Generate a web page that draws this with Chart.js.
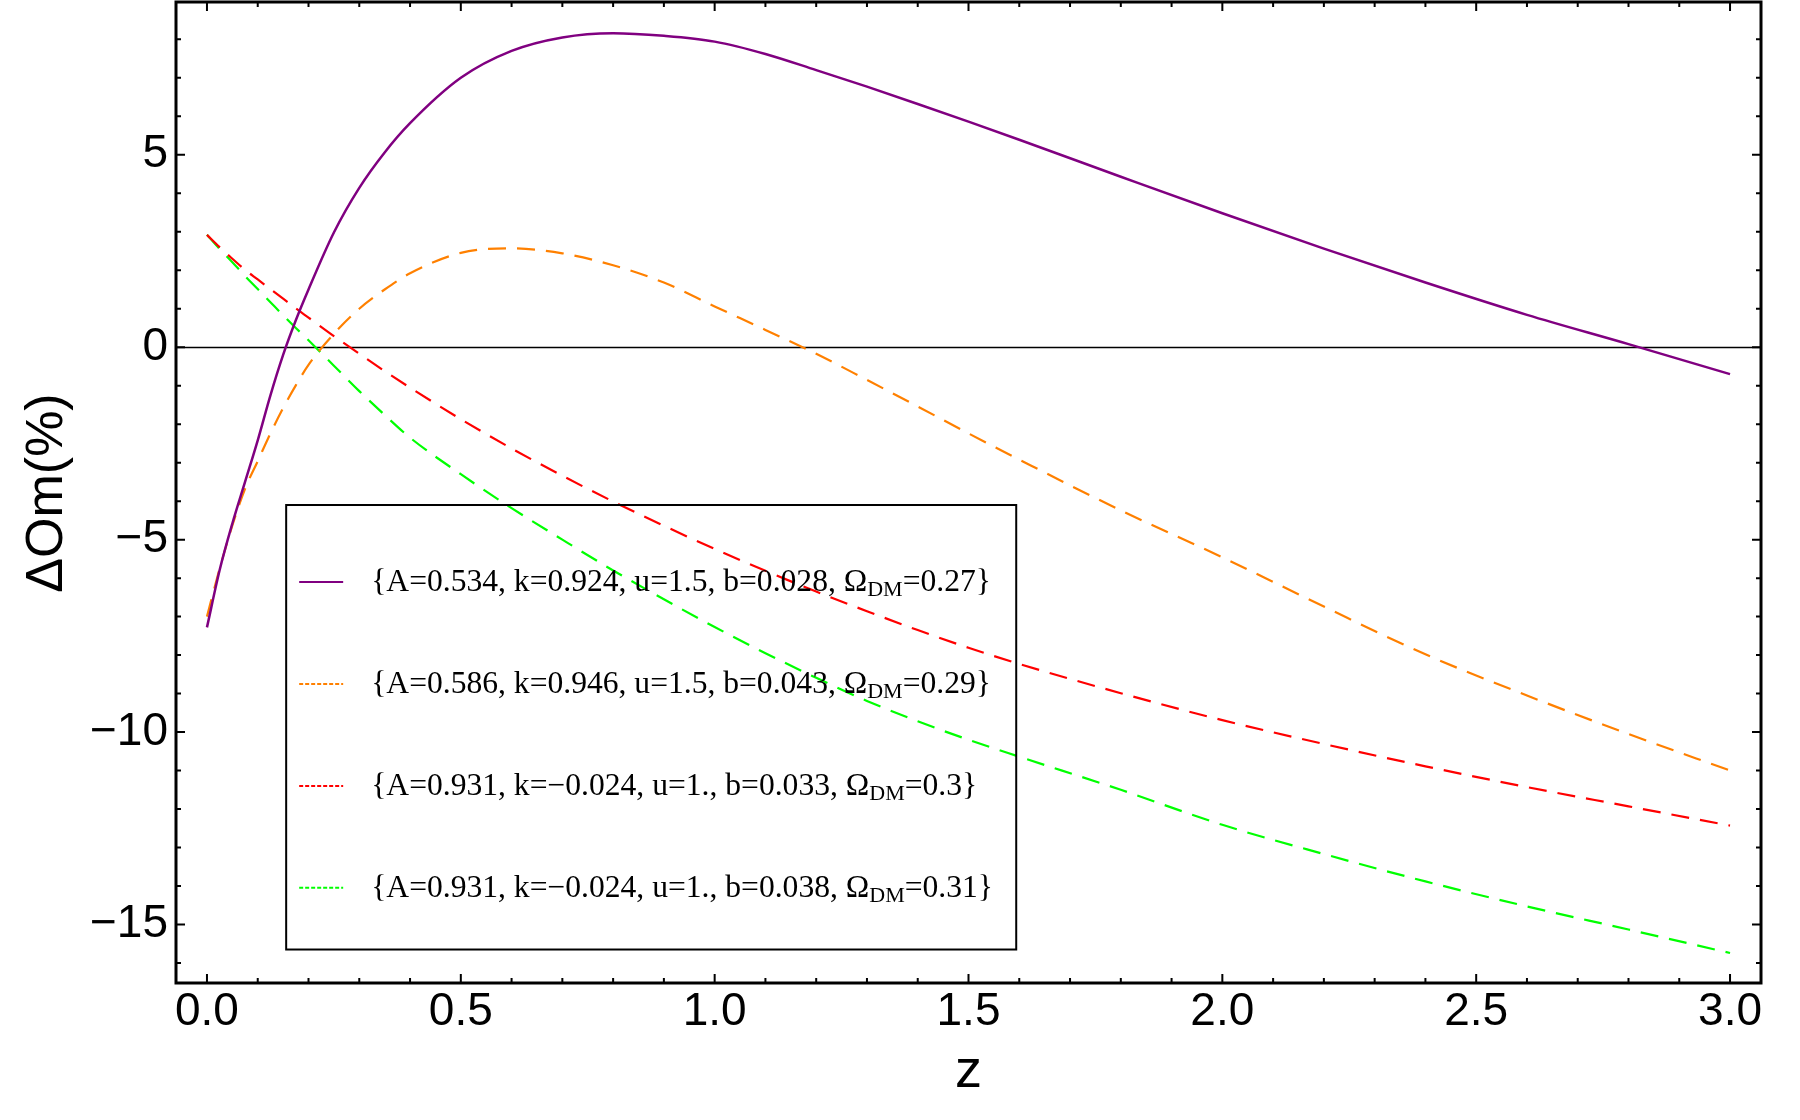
<!DOCTYPE html>
<html>
<head>
<meta charset="utf-8">
<script src="https://cdn.jsdelivr.net/npm/chart.js@4.4.1/dist/chart.umd.min.js"></script>
<style>
  html, body { margin: 0; padding: 0; background: #fff; }
  #wrap { width: 1800px; height: 1120px; }
</style>
</head>
<body>
<div id="wrap"><canvas id="chart" width="1800" height="1120"></canvas></div>
<script>
// redshift samples
const zValues = [0, 0.025, 0.05, 0.075, 0.1, 0.125, 0.15, 0.175, 0.2, 0.25, 0.3, 0.35, 0.4, 0.5, 0.6, 0.7, 0.8, 0.9,
                 1.0, 1.1, 1.2, 1.3, 1.4, 1.5, 1.6, 1.8, 2.0, 2.2, 2.4, 2.6, 2.8, 3.0];

// ΔOm(%)
const purpleVals = [-7.28, -5.79, -4.58, -3.5, -2.42, -1.25, -0.2, 0.7, 1.5, 2.98, 4.14, 5.06, 5.82, 7.0, 7.7, 8.05, 8.16, 8.09,
                    7.94, 7.62, 7.2, 6.77, 6.32, 5.86, 5.39, 4.43, 3.48, 2.56, 1.68, 0.84, 0.08, -0.70];
const orangeVals = [-7.0, -5.75, -4.63, -3.68, -2.96, -2.24, -1.58, -0.99, -0.46, 0.35, 1.0, 1.5, 1.92, 2.45, 2.57, 2.44, 2.13, 1.68,
                    1.06, 0.45, -0.17, -0.85, -1.54, -2.24, -2.92, -4.24, -5.46, -6.74, -7.98, -9.05, -10.05, -11.0];
const redVals    = [2.92, 2.6, 2.3, 2.01, 1.76, 1.51, 1.26, 1.01, 0.77, 0.29, -0.17, -0.62, -1.05, -1.87, -2.63, -3.34, -4.01, -4.64,
                    -5.24, -5.81, -6.35, -6.86, -7.35, -7.81, -8.23, -8.99, -9.69, -10.31, -10.89, -11.43, -11.93, -12.43];
const greenVals  = [2.92, 2.55, 2.21, 1.85, 1.51, 1.17, 0.83, 0.5, 0.18, -0.48, -1.14, -1.76, -2.35, -3.3, -4.18, -5.0, -5.8, -6.55,
                    -7.27, -7.95, -8.59, -9.19, -9.72, -10.2, -10.64, -11.5, -12.41, -13.17, -13.88, -14.53, -15.13, -15.74];

// legend parameters
const paramA  = ['0.534', '0.586', '0.931', '0.931'];
const paramK  = ['0.924', '0.946', '\u22120.024', '\u22120.024'];
const paramU  = ['1.5', '1.5', '1.', '1.'];
const paramB  = ['0.028', '0.043', '0.033', '0.038'];
const paramOm = ['0.27', '0.29', '0.3', '0.31'];

const seriesColors = ['#800080', '#ff8000', '#ff0000', '#00ff00'];
const seriesVals = [purpleVals, orangeVals, redVals, greenVals];

const xMajor = [0, 0.5, 1.0, 1.5, 2.0, 2.5, 3.0];
const yMajor = [-15, -10, -5, 0, 5];

const SANS = '"Liberation Sans", Arial, Helvetica, sans-serif';
const SERIF = '"Liberation Serif", "Times New Roman", serif';

const datasets = seriesVals.map((vals, i) => ({
  label: 'set' + i,
  data: zValues.map((z, j) => ({ x: z, y: vals[j] })),
  borderColor: seriesColors[i],
  borderWidth: i === 0 ? 2.5 : 2.2,
  borderDash: i === 0 ? [] : [18, 11],
  pointRadius: 0,
  fill: false,
  cubicInterpolationMode: 'monotone'
}));

// frame, inward ticks, zero axis, axis titles and the boxed legend
const framePlugin = {
  id: 'frame',
  beforeDatasetsDraw(chart) {
    const { ctx, chartArea: a, scales: { y } } = chart;
    const y0 = Math.round(y.getPixelForValue(0)) + 0.5;
    ctx.save();
    ctx.strokeStyle = '#000';
    ctx.lineWidth = 1.3;
    ctx.beginPath();
    ctx.moveTo(a.left, y0);
    ctx.lineTo(a.right, y0);
    ctx.stroke();
    ctx.restore();
  },
  afterDraw(chart) {
    const { ctx, chartArea: a, scales: { x, y } } = chart;
    ctx.save();
    ctx.strokeStyle = '#000';

    // ticks
    ctx.lineWidth = 2;
    for (let k = 0; k <= 30; k++) {
      const px = x.getPixelForValue(k / 10);
      const len = (k % 5 === 0) ? 9 : 5;
      ctx.beginPath();
      ctx.moveTo(px, a.bottom); ctx.lineTo(px, a.bottom - len);
      ctx.moveTo(px, a.top); ctx.lineTo(px, a.top + len);
      ctx.stroke();
    }
    for (let v = -16; v <= 8; v++) {
      const py = y.getPixelForValue(v);
      const len = (v % 5 === 0) ? 9 : 5;
      ctx.beginPath();
      ctx.moveTo(a.left, py); ctx.lineTo(a.left + len, py);
      ctx.moveTo(a.right, py); ctx.lineTo(a.right - len, py);
      ctx.stroke();
    }

    // frame
    ctx.lineWidth = 3;
    ctx.strokeRect(a.left, a.top, a.right - a.left, a.bottom - a.top);

    // axis titles
    ctx.fillStyle = '#000';
    ctx.font = '54px ' + SANS;
    ctx.textAlign = 'center';
    ctx.textBaseline = 'alphabetic';
    ctx.fillText('z', (a.left + a.right) / 2, a.bottom + 104);
    ctx.save();
    ctx.translate(62, 493);
    ctx.rotate(-Math.PI / 2);
    ctx.font = '52px ' + SANS;
    ctx.fillText('\u0394Om(%)', 0, 0);
    ctx.restore();

    // legend box (transparent, curves show through)
    const bx = x.getPixelForValue(0.156), by = y.getPixelForValue(-4.1);
    const bx2 = x.getPixelForValue(1.594), by2 = y.getPixelForValue(-15.65);
    ctx.lineWidth = 2;
    ctx.strokeRect(bx, by, bx2 - bx, by2 - by);

    const rowH = (by2 - by) / 4.36;
    paramA.forEach((A, i) => {
      const ly = by + rowH * (0.755 + i);
      ctx.strokeStyle = seriesColors[i];
      ctx.lineWidth = 2;
      ctx.setLineDash(i === 0 ? [] : [4, 2]);
      ctx.beginPath();
      ctx.moveTo(bx + 13, ly);
      ctx.lineTo(bx + 57, ly);
      ctx.stroke();
      ctx.setLineDash([]);

      ctx.fillStyle = '#000';
      ctx.textAlign = 'left';
      ctx.textBaseline = 'alphabetic';
      let tx = bx + 85;
      const base = ly + 9;
      const main = `{A=${A}, k=${paramK[i]}, u=${paramU[i]}, b=${paramB[i]}, \u03A9`;
      ctx.font = '31.6px ' + SERIF;
      ctx.fillText(main, tx, base);
      tx += ctx.measureText(main).width;
      ctx.font = '22px ' + SERIF;
      ctx.fillText('DM', tx, base + 5);
      tx += ctx.measureText('DM').width;
      ctx.font = '31.6px ' + SERIF;
      ctx.fillText(`=${paramOm[i]}}`, tx, base);
    });
    ctx.restore();
  }
};

const noPad = s => { s.paddingTop = 0; s.paddingBottom = 0; s.paddingLeft = 0; s.paddingRight = 0; };

new Chart(document.getElementById('chart'), {
  type: 'line',
  data: { datasets },
  options: {
    responsive: false,
    animation: false,
    devicePixelRatio: 1,
    layout: { padding: { top: 2, right: 39, left: 0, bottom: 0 } },
    plugins: { legend: { display: false }, tooltip: { enabled: false } },
    scales: {
      x: {
        type: 'linear',
        min: -0.061, max: 3.061,
        afterFit: s => { s.height = 137; noPad(s); },
        afterBuildTicks: s => { s.ticks = xMajor.map(v => ({ value: v })); },
        grid: { display: false, drawTicks: false },
        border: { display: false },
        ticks: {
          padding: 2,
          color: '#000',
          font: { family: SANS, size: 46 },
          maxRotation: 0,
          callback: v => v.toFixed(1)
        }
      },
      y: {
        type: 'linear',
        min: -16.52, max: 8.97,
        afterFit: s => { s.width = 176; noPad(s); },
        afterBuildTicks: s => { s.ticks = yMajor.map(v => ({ value: v })); },
        grid: { display: false, drawTicks: false },
        border: { display: false },
        ticks: {
          padding: 8,
          color: '#000',
          font: { family: SANS, size: 46 },
          callback: v => v < 0 ? '\u2212' + Math.abs(v) : String(v)
        }
      }
    }
  },
  plugins: [framePlugin]
});
</script>
</body>
</html>
